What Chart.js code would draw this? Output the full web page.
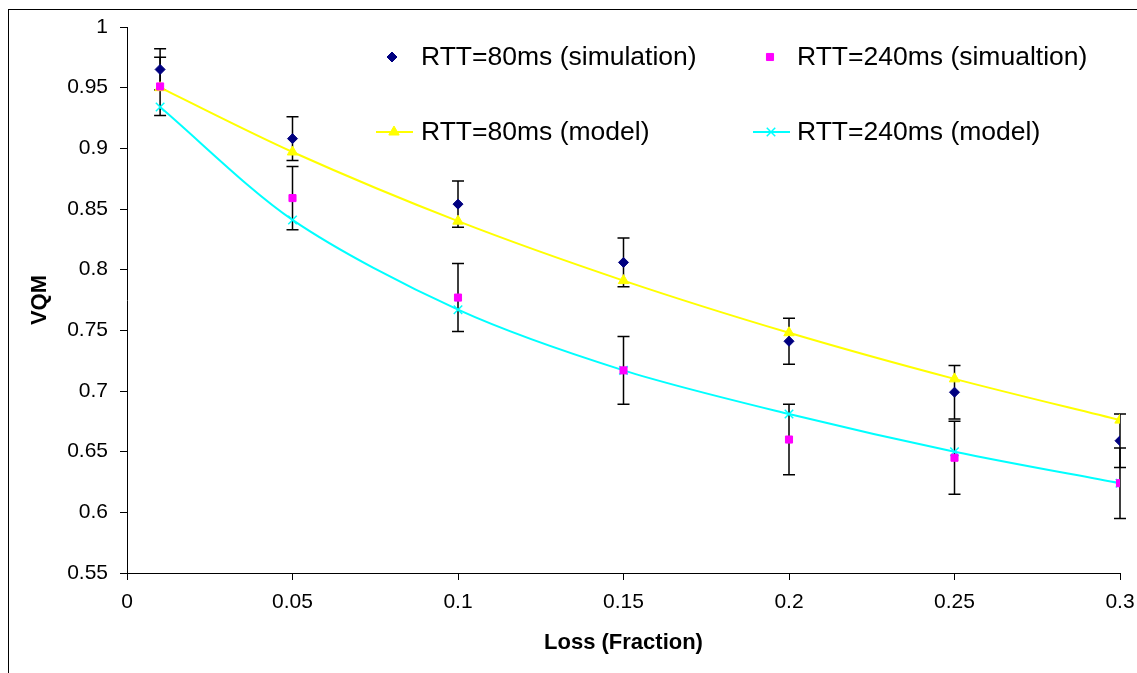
<!DOCTYPE html>
<html>
<head>
<meta charset="utf-8">
<script src="https://cdn.jsdelivr.net/npm/chart.js@4"></script>
<style>
  html, body { margin: 0; padding: 0; background: #fff; overflow: hidden; }
  #wrap { position: relative; width: 1137px; height: 673px; }
  #frame { position: absolute; left: 8px; top: 9px; width: 1300px; height: 900px; border: 1px solid #000; pointer-events: none; }
</style>
</head>
<body>
<div id="wrap">
  <canvas id="vqmChart" width="1137" height="673"></canvas>
  <div id="frame"></div>
</div>
<script>
// Data
const lossX = [0.01, 0.05, 0.1, 0.15, 0.2, 0.25, 0.3];
const sim80 = [0.965, 0.908, 0.854, 0.806, 0.741, 0.699, 0.659];
const sim80Err = [0.017, 0.018, 0.019, 0.020, 0.019, 0.022, 0.022];
const sim240 = [0.951, 0.859, 0.777, 0.717, 0.660, 0.645, 0.624];
const sim240Err = [0.024, 0.026, 0.028, 0.028, 0.029, 0.030, 0.029];
const model80 = [0.950, 0.897, 0.840, 0.791, 0.748, 0.710, 0.676];
const model240 = [0.934, 0.841, 0.767, 0.717, 0.681, 0.650, 0.624];
const yTicks = [0.55, 0.6, 0.65, 0.7, 0.75, 0.8, 0.85, 0.9, 0.95, 1];

const FONT = "'Liberation Sans', Arial, sans-serif";
Chart.defaults.font.family = FONT;
Chart.defaults.color = '#000';

function toPoints(ys) {
  return lossX.map((x, i) => ({ x: x, y: ys[i] }));
}

// Error bars, drawn behind the markers
const errorBars = {
  id: 'errorBars',
  beforeDatasetsDraw(chart) {
    const { ctx, scales: { x, y } } = chart;
    ctx.save();
    ctx.strokeStyle = '#000';
    ctx.lineWidth = 1.5;
    [[sim80, sim80Err], [sim240, sim240Err]].forEach(([vals, errs]) => {
      vals.forEach((v, i) => {
        const px = x.getPixelForValue(lossX[i]);
        const top = y.getPixelForValue(v + errs[i]);
        const bot = y.getPixelForValue(v - errs[i]);
        ctx.beginPath();
        ctx.moveTo(px, top); ctx.lineTo(px, bot);
        ctx.moveTo(px - 6, top); ctx.lineTo(px + 6, top);
        ctx.moveTo(px - 6, bot); ctx.lineTo(px + 6, bot);
        ctx.stroke();
      });
    });
    ctx.restore();
  }
};

// Legend laid out in two rows, two columns, inside the plot
const gridLegend = {
  id: 'gridLegend',
  afterDraw(chart) {
    const ctx = chart.ctx;
    const items = [
      { ds: 0, x: 392, y: 57, tx: 421, line: false },
      { ds: 1, x: 770, y: 57, tx: 797, line: false },
      { ds: 2, x: 394, y: 132, tx: 421, line: true },
      { ds: 3, x: 771, y: 132, tx: 797, line: true }
    ];
    ctx.save();
    items.forEach(it => {
      const d = chart.data.datasets[it.ds];
      if (it.line) {
        ctx.strokeStyle = d.borderColor;
        ctx.lineWidth = 2;
        ctx.beginPath();
        ctx.moveTo(it.x - 18, it.y);
        ctx.lineTo(it.x + 19, it.y);
        ctx.stroke();
      }
      ctx.fillStyle = d.pointBackgroundColor;
      ctx.strokeStyle = d.pointBorderColor;
      ctx.lineWidth = d.pointBorderWidth;
      Chart.helpers.drawPoint(ctx, {
        pointStyle: d.pointStyle,
        radius: d.pointRadius,
        rotation: 0,
        borderWidth: d.pointBorderWidth
      }, it.x, it.y);
      ctx.fillStyle = '#000';
      ctx.font = '26.5px ' + FONT;
      ctx.textBaseline = 'middle';
      ctx.textAlign = 'left';
      ctx.fillText(d.label, it.tx, it.y + 1);
    });
    ctx.restore();
  }
};

new Chart(document.getElementById('vqmChart'), {
  type: 'scatter',
  data: {
    datasets: [
      {
        label: 'RTT=80ms (simulation)',
        data: toPoints(sim80),
        showLine: false,
        pointStyle: 'rectRot',
        pointRadius: 5,
        pointBackgroundColor: '#000080',
        pointBorderColor: '#000080',
        pointBorderWidth: 1,
        order: 1
      },
      {
        label: 'RTT=240ms (simualtion)',
        data: toPoints(sim240),
        showLine: false,
        pointStyle: 'rect',
        pointRadius: 5,
        pointBackgroundColor: '#FF00FF',
        pointBorderColor: '#FF00FF',
        pointBorderWidth: 1,
        order: 2
      },
      {
        label: 'RTT=80ms (model)',
        data: toPoints(model80),
        showLine: true,
        borderColor: '#FFFF00',
        borderWidth: 2,
        tension: 0.3,
        pointStyle: 'triangle',
        pointRadius: 6,
        pointBackgroundColor: '#FFFF00',
        pointBorderColor: '#FFFF00',
        pointBorderWidth: 1,
        order: 3
      },
      {
        label: 'RTT=240ms (model)',
        data: toPoints(model240),
        showLine: true,
        borderColor: '#00FFFF',
        borderWidth: 2,
        tension: 0.3,
        pointStyle: 'crossRot',
        pointRadius: 6,
        pointBackgroundColor: '#00FFFF',
        pointBorderColor: '#00FFFF',
        pointBorderWidth: 1.5,
        order: 4
      }
    ]
  },
  options: {
    responsive: false,
    animation: false,
    devicePixelRatio: 1,
    layout: { padding: { top: 27, right: 17, left: 0, bottom: 0 } },
    plugins: {
      legend: { display: false },
      tooltip: { enabled: false }
    },
    scales: {
      x: {
        type: 'linear',
        min: 0,
        max: 0.3,
        afterFit(scale) {
          scale.height = 100;
          scale.paddingLeft = 0;
          scale.paddingRight = 0;
        },
        ticks: {
          stepSize: 0.05,
          padding: 10,
          font: { size: 21 },
          color: '#000',
          callback: v => String(+v.toFixed(2))
        },
        grid: { drawOnChartArea: false, drawTicks: true, tickLength: 7, color: '#000' },
        border: { color: '#000', width: 1 },
        title: {
          display: true,
          text: 'Loss (Fraction)',
          font: { size: 22, weight: 'bold' },
          color: '#000',
          padding: { top: 0, bottom: 17 }
        }
      },
      y: {
        type: 'linear',
        min: 0.55,
        max: 1,
        afterFit(scale) {
          scale.width = 127;
          scale.paddingTop = 0;
          scale.paddingBottom = 0;
        },
        afterBuildTicks(scale) { scale.ticks = yTicks.map(v => ({ value: v })); },
        ticks: {
          padding: 12,
          font: { size: 21 },
          color: '#000',
          callback: v => String(+v.toFixed(2))
        },
        grid: { drawOnChartArea: false, drawTicks: true, tickLength: 7, color: '#000' },
        border: { color: '#000', width: 1 },
        title: {
          display: true,
          text: 'VQM',
          font: { size: 22, weight: 'bold' },
          color: '#000',
          padding: { top: 27, bottom: 0 }
        }
      }
    }
  },
  plugins: [errorBars, gridLegend]
});
</script>
</body>
</html>
